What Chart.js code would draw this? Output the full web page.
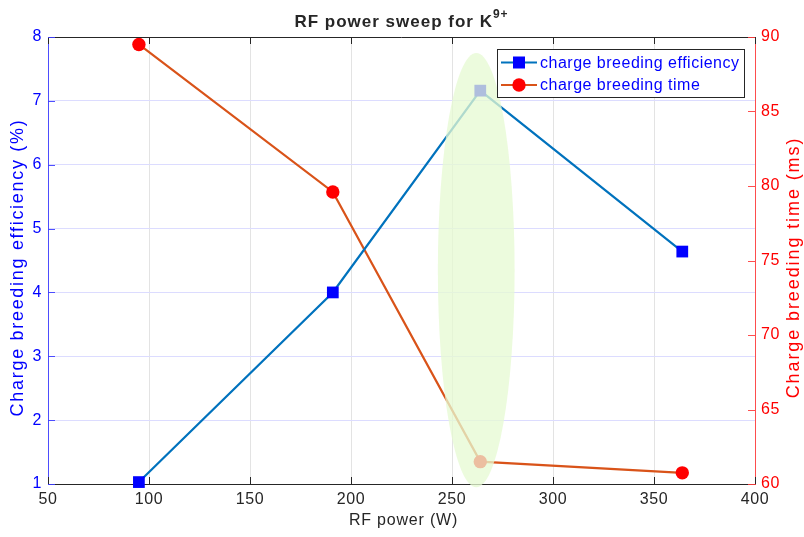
<!DOCTYPE html>
<html>
<head>
<meta charset="utf-8">
<script src="https://cdn.jsdelivr.net/npm/chart.js@4/dist/chart.umd.min.js"></script>
<style>
  html, body { margin: 0; padding: 0; background: #fff; }
  #wrap { width: 804px; height: 537px; }
</style>
</head>
<body>
<div id="wrap"><canvas id="grafico"></canvas></div>
<script>
// RF power (W)
const rfPower = [95, 191, 264, 364]
// charge breeding efficiency (%)
const efficiency = [1.03, 4.0, 7.16, 4.64]
// charge breeding time (ms)
const breedingTime = [89.5, 79.6, 61.5, 60.75]

const xTicks = [50, 100, 150, 200, 250, 300, 350, 400]
const leftTicks = [1, 2, 3, 4, 5, 6, 7, 8]
const rightTicks = [60, 65, 70, 75, 80, 85, 90]

// highlighted region (data units, left axis)
const highlight = { x: 262, y: 4.35, rx: 19, ry: 3.4 }

const FONT = 'Liberation Sans, Arial, Helvetica, sans-serif'
const DARK = '#262626'
const BLUE = '#0000ff'
const RED = '#ff0000'

function pontos(xs, ys) {
    let out = []
    for (let i = 0; i < xs.length; i++) out.push({ x: xs[i], y: ys[i] })
    return out
}

// texto rotacionado (de baixo para cima)
function textoVertical(c, txt, x, y, cor, tamanho, espaco) {
    c.save()
    c.translate(x, y)
    c.rotate(-Math.PI / 2)
    c.font = tamanho + 'px ' + FONT
    c.letterSpacing = espaco + 'px'
    c.fillStyle = cor
    c.textAlign = 'center'
    c.textBaseline = 'middle'
    c.fillText(txt, 0, 0)
    c.restore()
}

const extras = {
    id: 'extras',
    beforeDraw(chart) {
        chart.ctx.letterSpacing = '0.6px'
    },
    afterDatasetsDraw(chart) {
        const c = chart.ctx
        const x = chart.scales.x, y = chart.scales.y
        const cx = x.getPixelForValue(highlight.x)
        const cy = y.getPixelForValue(highlight.y)
        const rx = Math.abs(x.getPixelForValue(highlight.x + highlight.rx) - cx)
        const ry = Math.abs(y.getPixelForValue(highlight.y + highlight.ry) - cy)
        c.save()
        c.beginPath()
        c.ellipse(cx, cy, rx, ry, 0, 0, Math.PI * 2)
        c.fillStyle = 'rgba(230,250,210,0.76)'
        c.fill()
        c.restore()
    },
    afterDraw(chart) {
        const c = chart.ctx
        const a = chart.chartArea
        const x = chart.scales.x, y = chart.scales.y, y1 = chart.scales.y1
        c.save()
        // top border of the box
        c.strokeStyle = DARK
        c.lineWidth = 1
        c.beginPath()
        c.moveTo(a.left, a.top + 0.5)
        c.lineTo(a.right, a.top + 0.5)
        c.stroke()
        // inward ticks
        const tl = 7
        xTicks.forEach(function (v) {
            const px = Math.round(x.getPixelForValue(v)) + 0.5
            c.strokeStyle = DARK
            c.beginPath()
            c.moveTo(px, a.bottom); c.lineTo(px, a.bottom - tl)
            c.moveTo(px, a.top); c.lineTo(px, a.top + tl)
            c.stroke()
        })
        leftTicks.forEach(function (v) {
            const py = Math.round(y.getPixelForValue(v)) + 0.5
            c.strokeStyle = 'rgba(60,60,255,0.9)'
            c.beginPath()
            c.moveTo(a.left, py); c.lineTo(a.left + tl, py)
            c.stroke()
        })
        rightTicks.forEach(function (v) {
            const py = Math.round(y1.getPixelForValue(v)) + 0.5
            c.strokeStyle = 'rgba(255,60,60,0.9)'
            c.beginPath()
            c.moveTo(a.right, py); c.lineTo(a.right - tl, py)
            c.stroke()
        })

        // axis titles
        const meioY = (a.top + a.bottom) / 2 + 7
        textoVertical(c, 'Charge breeding efficiency (%)', 18, meioY, BLUE, 18, 1.7)
        textoVertical(c, 'Charge breeding time (ms)', 794, meioY, RED, 18, 1.9)
        c.font = '16px ' + FONT
        c.letterSpacing = '0.8px'
        c.fillStyle = DARK
        c.textAlign = 'center'
        c.textBaseline = 'middle'
        c.fillText('RF power (W)', (a.left + a.right) / 2 + 2, 521)

        // title with superscript
        const t1 = 'RF power sweep for K'
        const t2 = '9+'
        c.letterSpacing = '1px'
        c.fillStyle = DARK
        c.textBaseline = 'alphabetic'
        c.font = 'bold 17px ' + FONT
        const w1 = c.measureText(t1).width
        c.font = 'bold 12px ' + FONT
        const w2 = c.measureText(t2).width
        const tx = (a.left + a.right) / 2 - (w1 + w2) / 2
        c.font = 'bold 17px ' + FONT
        c.textAlign = 'left'
        c.fillText(t1, tx, 27)
        c.font = 'bold 12px ' + FONT
        c.fillText(t2, tx + w1, 18)

        // legend
        const lx = 497, ly = 49, lw = 247, lh = 48
        c.fillStyle = '#fff'
        c.fillRect(lx, ly, lw, lh)
        c.strokeStyle = DARK
        c.lineWidth = 1
        c.strokeRect(lx + 0.5, ly + 0.5, lw, lh)
        const rows = [ly + 13.5, ly + 36]
        c.letterSpacing = '0.5px'
        chart.data.datasets.forEach(function (ds, i) {
            const ry = rows[i]
            c.strokeStyle = ds.borderColor
            c.lineWidth = 2
            c.beginPath()
            c.moveTo(lx + 4, ry); c.lineTo(lx + 40, ry)
            c.stroke()
            c.fillStyle = ds.pointBackgroundColor
            if (ds.pointStyle === 'rect') {
                c.fillRect(lx + 22 - 6, ry - 6, 12, 12)
            } else {
                c.beginPath()
                c.arc(lx + 22, ry, 6.7, 0, Math.PI * 2)
                c.fill()
            }
            c.fillStyle = BLUE
            c.font = '16px ' + FONT
            c.textAlign = 'left'
            c.textBaseline = 'middle'
            c.fillText(ds.label, lx + 43, ry + 1)
        })
        c.restore()
    }
}

const ctx = document.getElementById('grafico')

var myChart = new Chart(ctx, {
    type: 'scatter',
    data: {
        datasets: [
            {
                label: 'charge breeding efficiency',
                data: pontos(rfPower, efficiency),
                yAxisID: 'y',
                showLine: true,
                borderColor: '#0072bd',
                borderWidth: 2.2,
                pointStyle: 'rect',
                pointRadius: 8.3,
                pointBackgroundColor: BLUE,
                pointBorderColor: BLUE,
                pointBorderWidth: 0,
                clip: false
            },
            {
                label: 'charge breeding time',
                data: pontos(rfPower, breedingTime),
                yAxisID: 'y1',
                showLine: true,
                borderColor: '#d95319',
                borderWidth: 2.2,
                pointStyle: 'circle',
                pointRadius: 6.7,
                pointBackgroundColor: RED,
                pointBorderColor: RED,
                pointBorderWidth: 0,
                clip: false
            }
        ]
    },
    options: {
        responsive: true,
        maintainAspectRatio: false,
        animation: false,
        layout: { padding: { top: 37, left: 0, right: 0, bottom: 0 } },
        plugins: {
            legend: { display: false },
            tooltip: { enabled: false },
            title: { display: false }
        },
        scales: {
            x: {
                type: 'linear',
                min: 50,
                max: 400,
                afterBuildTicks: function (s) { s.ticks = xTicks.map(v => ({ value: v })) },
                afterFit: function (s) { s.height = 53 },
                border: { color: DARK, width: 1 },
                grid: { color: '#e3e3e3', drawTicks: false },
                ticks: { color: DARK, padding: 6, font: { family: FONT, size: 16 } }
            },
            y: {
                position: 'left',
                min: 1,
                max: 8,
                afterBuildTicks: function (s) { s.ticks = leftTicks.map(v => ({ value: v })) },
                afterFit: function (s) { s.width = 48 },
                border: { color: 'rgba(60,60,255,0.9)', width: 1 },
                grid: { color: '#dcdcff', drawTicks: false },
                ticks: { color: BLUE, padding: 6, font: { family: FONT, size: 16 } }
            },
            y1: {
                position: 'right',
                min: 60,
                max: 90,
                afterBuildTicks: function (s) { s.ticks = rightTicks.map(v => ({ value: v })) },
                afterFit: function (s) { s.width = 49 },
                border: { color: 'rgba(255,60,60,0.9)', width: 1 },
                grid: { drawOnChartArea: false, drawTicks: false },
                ticks: { color: RED, padding: 6, font: { family: FONT, size: 16 } }
            }
        }
    },
    plugins: [extras]
});
</script>
</body>
</html>
